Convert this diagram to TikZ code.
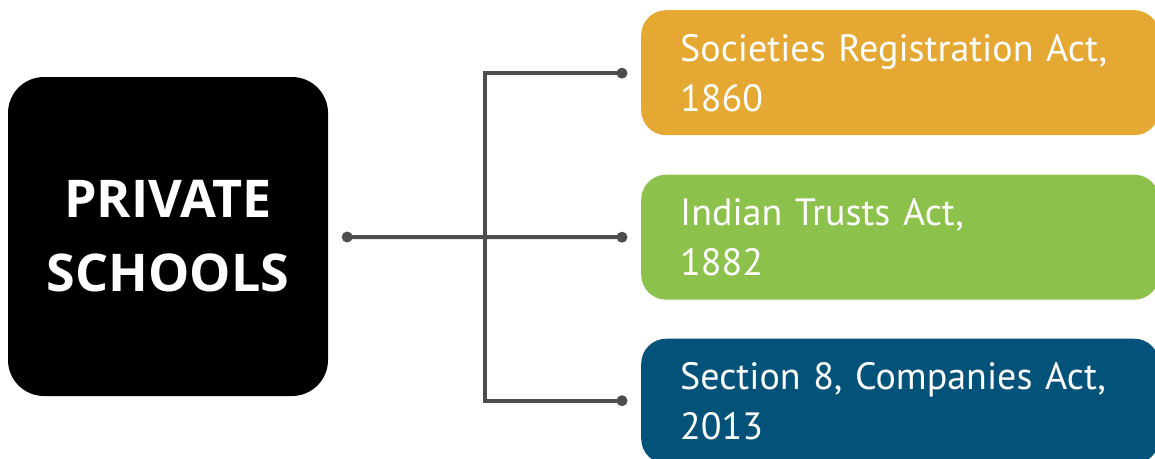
\documentclass[tikz,border=0pt]{standalone}
\usepackage{fontspec}
\setmainfont{PT Sans}
\newfontfamily\boldfam{Open Sans}
\usetikzlibrary{calc}
\definecolor{orangebox}{HTML}{E5A832}
\definecolor{greenbox}{HTML}{8CC24B}
\definecolor{bluebox}{HTML}{02527A}
\definecolor{conncol}{HTML}{4D4D4D}
\tikzset{
  actbox/.style={anchor=north west, rounded corners=25pt, minimum width=518pt,
    minimum height=125pt, inner xsep=39pt, inner ysep=0pt, text width=440pt,
    align=left, text=white, font=\fontsize{38}{50}\selectfont},
  mainbox/.style={fill=black, rounded corners=36pt, minimum width=320pt,
    minimum height=319pt, text=white, align=center, inner sep=0pt,
    font=\boldfam\bfseries\fontsize{52}{77}\selectfont},
  conn/.style={draw=conncol, line width=4pt},
  enddot/.style={fill=conncol}
}
\begin{document}
\begin{tikzpicture}[x=1pt,y=-1pt]
\clip (0,0) rectangle (1155,458);
\fill[white] (0,0) rectangle (1155,458);
\node[mainbox] (ps) at (168,236.5) {\raisebox{-3pt}{PRIVATE}\\[0pt]SCHOOLS};
\node[actbox, fill=orangebox] (b1) at (641,10) {Societies Registration Act,\\1860};
\node[actbox, fill=greenbox] (b2) at (641,174.5) {Indian Trusts Act,\\1882};
\node[actbox, fill=bluebox] (b3) at (641,338.5) {Section 8, Companies Act,\\2013};
\coordinate (s) at ($(ps.east)+(19,0.5)$);
\coordinate (e1) at ($(b1.west)+(-19,0.5)$);
\coordinate (e2) at ($(b2.west)+(-19,0)$);
\coordinate (e3) at ($(b3.west)+(-19,-0.5)$);
\coordinate (j) at ($(s)!0.5!(e2)+(0.5,0)$);
\draw[conn] (s) -- (e2);
\draw[conn] (e1) -| (j) |- (e3);
\foreach \p in {s,e1,e2,e3} \fill[enddot] (\p) circle (5.5pt);
\end{tikzpicture}
\end{document}
